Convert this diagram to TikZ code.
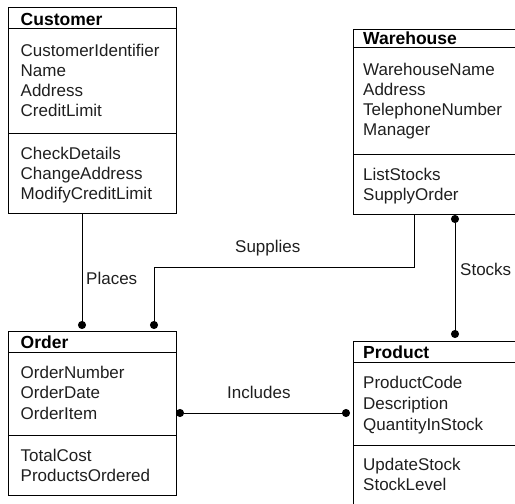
\documentclass[tikz,border=0pt]{standalone}
\usepackage{fontspec}
\setmainfont{Liberation Sans}
\usetikzlibrary{arrows.meta}
\tikzset{
  classbox/.style={draw, line width=1pt, rectangle, inner sep=0pt, outer sep=0pt, anchor=north west},
  sepline/.style={line width=1pt},
  txt/.style={anchor=base west, inner sep=0pt, text=black!88, font=\fontsize{17}{20}\selectfont},
  title/.style={txt, text=black, font=\fontsize{17.5}{20}\selectfont\bfseries},
  assoc/.style={line width=1pt},
  dotstart/.style={{Circle[length=8pt]}-},
  dotend/.style={-{Circle[length=8pt]}},
  dotboth/.style={{Circle[length=8pt]}-{Circle[length=8pt]}},
}
\begin{document}
\begin{tikzpicture}[x=1pt,y=-1pt]
\useasboundingbox (0,0) rectangle (515,504);

% Customer class
\node[classbox, minimum width=168pt, minimum height=206pt] (cust) at (8,7) {};
\draw[sepline] (cust.west |- 0,28) -- (cust.east |- 0,28);
\draw[sepline] (cust.west |- 0,133) -- (cust.east |- 0,133);
\node[title] (custname) at (20.5,25) {Customer};
\foreach \t [count=\i] in {CustomerIdentifier,Name,Address,CreditLimit}
  \node[txt] (ca\i) at (20.5,{56+(\i-1)*20.2}) {\t};
\foreach \t [count=\i] in {CheckDetails,ChangeAddress,ModifyCreditLimit}
  \node[txt] (co\i) at (20.5,{159+(\i-1)*20.2}) {\t};

% Warehouse class
\node[classbox, minimum width=164pt, minimum height=185pt] (wh) at (353,29) {};
\draw[sepline] (wh.west |- 0,47) -- (wh.east |- 0,47);
\draw[sepline] (wh.west |- 0,154) -- (wh.east |- 0,154);
\node[title] (whname) at (363,44.5) {Warehouse};
\foreach \t [count=\i] in {WarehouseName,Address,TelephoneNumber,Manager}
  \node[txt] (wa\i) at (363,{75+(\i-1)*20.2}) {\t};
\foreach \t [count=\i] in {ListStocks,SupplyOrder}
  \node[txt] (wo\i) at (363,{180+(\i-1)*20.2}) {\t};

% Order class
\node[classbox, minimum width=168pt, minimum height=164pt] (ord) at (8,331) {};
\draw[sepline] (ord.west |- 0,352) -- (ord.east |- 0,352);
\draw[sepline] (ord.west |- 0,435) -- (ord.east |- 0,435);
\node[title] (ordname) at (20.5,348) {Order};
\foreach \t [count=\i] in {OrderNumber,OrderDate,OrderItem}
  \node[txt] (oa\i) at (20.5,{378+(\i-1)*20.6}) {\t};
\foreach \t [count=\i] in {TotalCost,ProductsOrdered}
  \node[txt] (oo\i) at (20.5,{461.5+(\i-1)*20.2}) {\t};

% Product class
\node[classbox, minimum width=164pt, minimum height=166pt] (prod) at (353,341) {};
\draw[sepline] (prod.west |- 0,362) -- (prod.east |- 0,362);
\draw[sepline] (prod.west |- 0,445) -- (prod.east |- 0,445);
\node[title] (prodname) at (363,358.5) {Product};
\foreach \t [count=\i] in {ProductCode,Description,QuantityInStock}
  \node[txt] (pa\i) at (363,{388.5+(\i-1)*20.8}) {\t};
\foreach \t [count=\i] in {UpdateStock,StockLevel}
  \node[txt] (po\i) at (363,{470+(\i-1)*20.2}) {\t};

% Associations
\draw[assoc, dotend, shorten >=2pt] (cust.south -| 82,0) -- (ord.north -| 82,0);
\node[txt] (places) at (86,284.5) {Places};

\coordinate (bend) at (154,267);
\draw[assoc, dotend, shorten >=2pt] (wh.south -| 414,0) |- (bend) -- (ord.north -| bend);
\node[txt] (supplies) at (235,252.5) {Supplies};

\draw[assoc, dotboth, shorten <=1pt, shorten >=3pt] (wh.south -| 455,0) -- (prod.north -| 455,0);
\node[txt] (stocks) at (460,275) {Stocks};

\draw[assoc, dotboth, shorten >=3pt] (ord.east |- 0,413) -- (prod.west |- 0,413);
\node[txt] (includes) at (227,398.5) {Includes};
\end{tikzpicture}
\end{document}
